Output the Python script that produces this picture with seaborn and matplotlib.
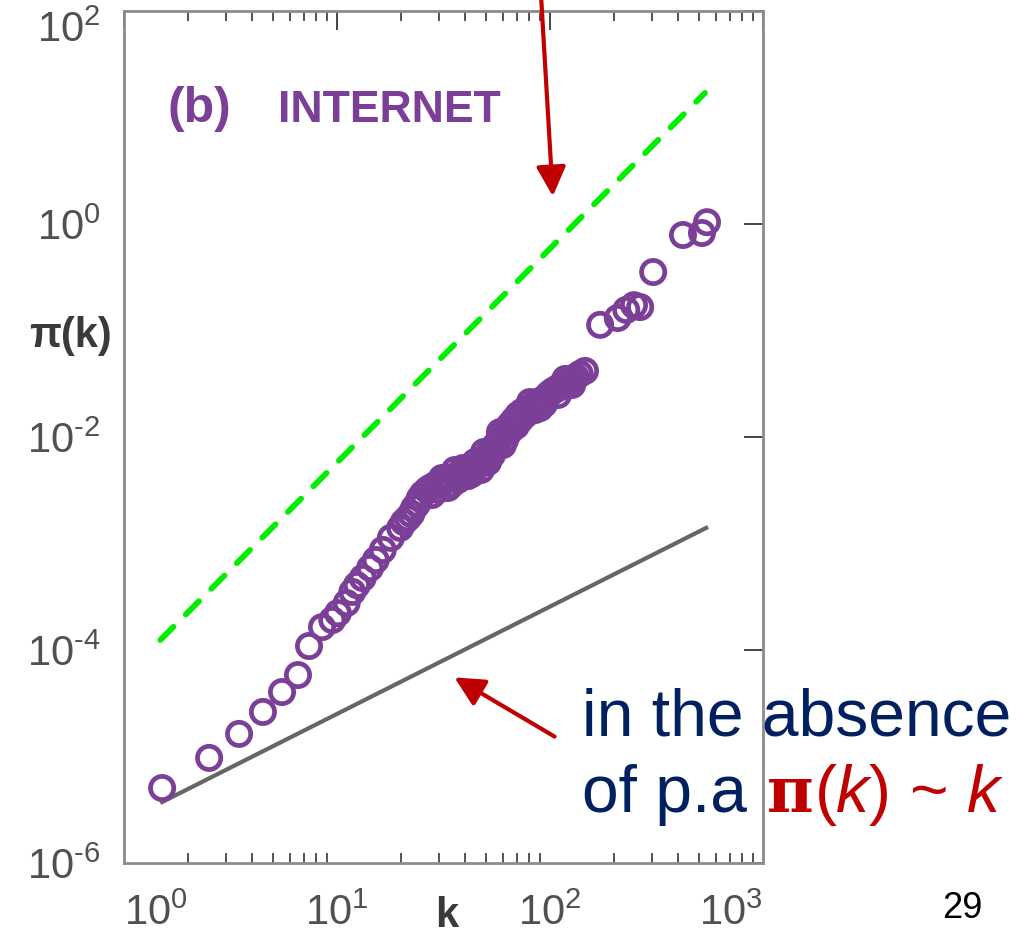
import numpy as np
import pandas as pd
import seaborn as sns
import matplotlib.pyplot as plt
from matplotlib.patches import FancyArrowPatch
from matplotlib.ticker import NullLocator, NullFormatter

k_vals = [1.51, 2.51, 3.47, 4.49, 5.52, 6.56, 7.39, 8.5, 9.5, 10.1, 11.1, 11.8,
          12.4, 13.2, 14.3, 15.2, 16.4, 17.9, 19.8, 20.6, 21.5, 22.3, 23.0, 23.8,
          24.5, 25.3, 26.5, 27.3, 28.8, 29.8, 30.5, 32.1, 33.9, 34.7, 35.8, 35.8,
          37.8, 39.9, 41.2, 42.1, 44.5, 44.5, 46.4, 48.5, 50.1, 51.2, 52.3, 54.0,
          55.7, 57.6, 58.2, 60.1, 61.5, 62.1, 64.9, 67.7, 70.8, 72.3, 73.9, 78.0,
          80.5, 81.4, 85.1, 89.8, 89.8, 94.8, 98.9, 103, 107, 111, 115, 119, 124,
          128, 132, 138, 146, 172, 208, 228, 248, 265, 305, 421, 517, 546,
          27.9, 31.1, 33.2, 37.0, 39.1, 43.0, 47.4, 49.0, 53.4, 56.4, 60.1, 64.2,
          66.4, 69.2, 76.3, 85.1, 93.7, 109, 118, 127]
pi_vals = [5.06e-6, 9.7e-6, 1.63e-5, 2.62e-5, 4.03e-5, 5.82e-5, 1.09e-4, 1.64e-4,
           1.91e-4, 2.22e-4, 2.76e-4, 3.51e-4, 4.07e-4, 4.74e-4, 5.89e-4, 7.0e-4,
           8.7e-4, 1.13e-3, 1.40e-3, 1.59e-3, 1.73e-3, 1.89e-3, 2.15e-3, 2.35e-3,
           2.67e-3, 2.92e-3, 3.18e-3, 3.32e-3, 3.54e-3, 3.18e-3, 3.70e-3, 3.95e-3,
           4.12e-3, 3.62e-3, 4.30e-3, 4.90e-3, 4.50e-3, 4.69e-3, 4.30e-3, 4.90e-3,
           5.12e-3, 5.82e-3, 5.46e-3, 5.82e-3, 6.49e-3, 5.82e-3, 7.23e-3, 7.88e-3,
           8.41e-3, 9.37e-3, 1.11e-2, 1.04e-2, 9.37e-3, 1.16e-2, 1.30e-2, 1.44e-2,
           1.61e-2, 1.44e-2, 1.72e-2, 1.79e-2, 2.13e-2, 1.91e-2, 2.04e-2, 2.18e-2,
           1.87e-2, 2.32e-2, 2.53e-2, 2.70e-2, 2.82e-2, 2.95e-2, 3.08e-2, 3.21e-2,
           3.36e-2, 3.43e-2, 3.66e-2, 3.91e-2, 4.17e-2, 0.113, 0.131, 0.156, 0.173,
           0.166, 0.354, 0.788, 0.823, 1.04,
           2.85e-3, 4.12e-3, 3.32e-3, 3.95e-3, 5.12e-3, 4.50e-3, 4.90e-3, 7.23e-3,
           6.78e-3, 8.23e-3, 8.41e-3, 1.11e-2, 1.30e-2, 1.27e-2, 1.61e-2, 1.79e-2,
           2.04e-2, 2.48e-2, 3.51e-2, 3.08e-2]

# reference lines
green_k = [1.48, 534]
green_pi = [1.24e-4, 17.0]
gray_k = [1.48, 552]
gray_pi = [3.66e-6, 1.43e-3]

x_ticks = [1, 10, 100, 1000]
x_ticklabels = [r"$\mathdefault{10^{0}}$", r"$\mathdefault{10^{1}}$",
                r"$\mathdefault{10^{2}}$", r"$\mathdefault{10^{3}}$"]
y_ticks = [1e-6, 1e-4, 1e-2, 1e0, 1e2]
y_ticklabels = [r"$\mathdefault{10^{‐6}}$", r"$\mathdefault{10^{‐4}}$",
                r"$\mathdefault{10^{‐2}}$", r"$\mathdefault{10^{0}}$",
                r"$\mathdefault{10^{2}}$"]

purple = "#7b3f98"
navy = "#002060"
darkred = "#c00000"

sns.set_style("white")
plt.rcParams["font.family"] = ["Liberation Sans", "DejaVu Sans"]
plt.rcParams["axes.unicode_minus"] = False
plt.rcParams["mathtext.fontset"] = "custom"
plt.rcParams["mathtext.rm"] = "Liberation Sans"
plt.rcParams["mathtext.it"] = "Liberation Sans:italic"

W, H = 1034, 939
fig = plt.figure(figsize=(W / 100, H / 100), dpi=100)


def fx(x):
    return x / W


def fy(y):
    return 1 - y / H


ax = fig.add_axes([fx(124), fy(863), fx(763) - fx(124), fy(11) - fy(863)])

df = pd.DataFrame({"k": k_vals, "pi": pi_vals})

sns.lineplot(x=green_k, y=green_pi, ax=ax, color="#00ee00", linewidth=4.2,
             linestyle=(0, (3.2, 3.0)), dash_capstyle="round")
sns.lineplot(x=gray_k, y=gray_pi, ax=ax, color="#666666", linewidth=3.0,
             solid_capstyle="butt")
sns.scatterplot(data=df, x="k", y="pi", ax=ax, marker="o", s=280,
                facecolor="none", edgecolor=purple, linewidth=3.4, zorder=3)

ax.set_xscale("log")
ax.set_yscale("log")
ax.set_xlim(1, 1000)
ax.set_ylim(1e-6, 1e2)
ax.set_xlabel("")
ax.set_ylabel("")

ax.set_xticks(x_ticks, labels=x_ticklabels)
ax.xaxis.set_minor_formatter(NullFormatter())
ax.set_yticks(y_ticks, labels=y_ticklabels)
ax.yaxis.set_minor_locator(NullLocator())

for s in ax.spines.values():
    s.set_color("#8c8c8c")
    s.set_linewidth(2.0)

ax.tick_params(axis="both", which="major", direction="in", length=14, width=1.4,
               color="#444444", labelcolor="#505050", labelsize=30,
               top=True, right=True)
ax.tick_params(axis="x", which="minor", direction="in", length=7, width=1.3,
               color="#444444", top=True, bottom=True)
ax.tick_params(axis="x", which="major", pad=22)
ax.tick_params(axis="y", which="major", pad=17)

xl = ax.get_xticklabels()
xl[0].set_ha("left")
xl[-1].set_ha("right")
yl = ax.get_yticklabels()
yl[-1].set_va("top")

# panel label
fig.text(fx(168), fy(122), "(b)", color=purple, fontsize=36, fontweight="bold",
         va="baseline", ha="left")
fig.text(fx(278), fy(122), "INTERNET", color=purple, fontsize=32, fontweight="bold",
         va="baseline", ha="left")

# axis titles
fig.text(fx(70), fy(336), "π(k)", color="#3a3a3a", fontsize=30, fontweight="bold",
         ha="center", va="center")
fig.text(fx(447), fy(916), "k", color="#3a3a3a", fontsize=30, fontweight="bold",
         ha="center", va="center")

# arrows
fig.patches.append(FancyArrowPatch(
    (fx(541), fy(-5)), (fx(553), fy(199)), transform=fig.transFigure,
    arrowstyle="-|>,head_length=0.9,head_width=0.45", mutation_scale=20,
    color=darkred, linewidth=3.0))
fig.patches.append(FancyArrowPatch(
    (fx(557), fy(738)), (fx(452), fy(676)), transform=fig.transFigure,
    arrowstyle="-|>,head_length=0.9,head_width=0.45", mutation_scale=20,
    color=darkred, linewidth=3.0))

# annotation text
fig.text(fx(582), fy(735), "in the absence", color=navy, fontsize=47.5,
         va="baseline", ha="left")
fig.text(fx(582), fy(812), "of p.a", color=navy, fontsize=47.5,
         va="baseline", ha="left")
fig.text(fx(767), fy(812), "π", color=darkred, fontsize=46, family="DejaVu Serif",
         fontweight="bold", va="baseline", ha="left")
fig.text(fx(814), fy(812), r"$(k)$ ~ $k$", color=darkred, fontsize=47.5,
         va="baseline", ha="left")

fig.text(fx(942), fy(918), "29", color="black", fontsize=26,
         va="baseline", ha="left")

fig.savefig("out.png", dpi=100)
